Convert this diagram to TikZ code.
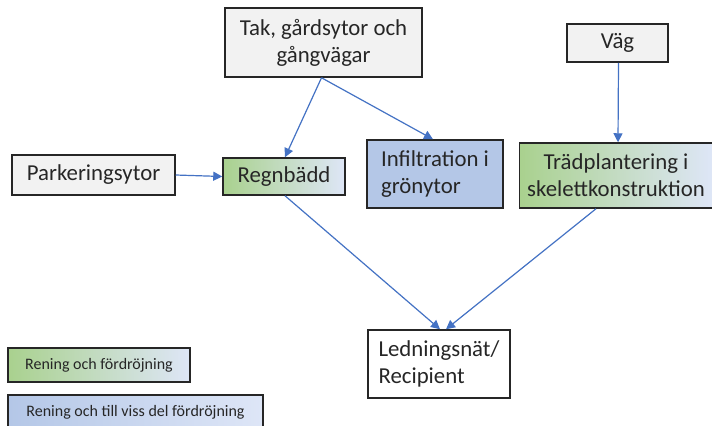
\documentclass[tikz,border=0pt]{standalone}
\usepackage{fontspec}
\setmainfont{Carlito}
\usetikzlibrary{arrows.meta}

\definecolor{boxgray}{HTML}{F2F2F2}
\definecolor{boxline}{HTML}{262626}
\definecolor{linkblue}{HTML}{4472C4}
\definecolor{greenfill}{HTML}{A9D18E}
\definecolor{bluefill}{HTML}{B4C7E7}
\definecolor{palefill}{HTML}{DEE6F7}

\tikzset{
  box/.style={draw=boxline,line width=0.75pt,inner sep=0pt,
    font=\fontsize{11.4}{13.5}\selectfont,text=boxline},
  graybox/.style={box,fill=boxgray},
  greenbox/.style={box,left color=greenfill,middle color=bluefill,right color=palefill,shading angle=90},
  bluebox/.style={box,fill=bluefill},
  legend/.style={box,font=\fontsize{8}{9.6}\selectfont},
  link/.style={draw=linkblue,line width=0.6pt,-{Triangle[length=4.5pt,width=4.5pt]}}
}

\begin{document}
\begin{tikzpicture}[x=0.5pt,y=-0.5pt]
\clip (0,0) rectangle (712,425);
\fill[white] (0,0) rectangle (712,425);

% sources
\node[graybox,minimum width=98.5pt,minimum height=34.5pt,align=center] (tak) at (323.5,42.5) {Tak, gårdsytor och\\gångvägar};
\node[graybox,minimum width=50.5pt,minimum height=19pt] (vag) at (617.5,43) {Väg};
\node[graybox,minimum width=81.5pt,minimum height=20pt] (park) at (93.5,175) {Parkeringsytor};

% measures
\node[greenbox,minimum width=61pt,minimum height=18.5pt] (regn) at (284,176.5) {Regnbädd};
\node[bluebox,minimum width=68pt,minimum height=34pt,align=left] (infil) at (435,174) {Infiltration i\\grönytor};
\node[greenbox,minimum width=96.5pt,minimum height=32.5pt,align=center] (trad) at (616,175.5) {Trädplantering i\\skelettkonstruktion};

% outlet
\node[box,fill=white,minimum width=71pt,minimum height=34pt,align=left] (led) at (439,364) {Ledningsnät/\\Recipient};

% legend
\node[legend,greenbox,font=\fontsize{8}{9.6}\selectfont,minimum width=91pt,minimum height=17pt] (leg1) at (99,365) {Rening och fördröjning};
\node[legend,left color=bluefill,right color=palefill,shading angle=90,minimum width=127.5pt,minimum height=17pt] (leg2) at (135.5,412) {Rening och till viss del fördröjning};

% links
\draw[link] ([xshift=-1pt]tak.south) -- ([xshift=0.5pt]regn.north);
\draw[link] ([xshift=-1pt]tak.south) -- ([xshift=-1pt]infil.north);
\draw[link] ([xshift=0.5pt]vag.south) -- ([xshift=1pt]trad.north);
\draw[link] (park.east) -- (regn.west);
\draw[link] ([xshift=0.5pt]regn.south) -- ([xshift=0.5pt]led.north);
\draw[link] ([xshift=-10pt]trad.south) -- ([xshift=3.5pt]led.north);
\end{tikzpicture}
\end{document}
